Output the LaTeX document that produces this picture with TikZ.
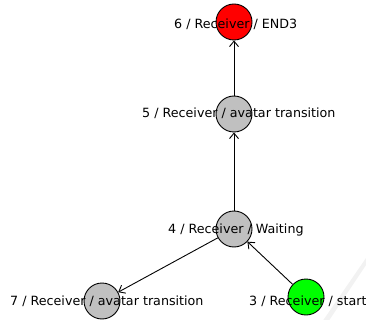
\documentclass[tikz,border=0pt]{standalone}
\usepackage{fontspec}
\setmainfont{DejaVu Sans}
\usetikzlibrary{arrows.meta}
\definecolor{stred}{RGB}{255,0,0}
\definecolor{stgrey}{RGB}{192,192,192}
\definecolor{stgreen}{RGB}{0,255,0}
\begin{document}
\begin{tikzpicture}[x=1pt,y=-1pt,
  state/.style={circle,draw=black,line width=0.9pt,minimum size=36pt,inner sep=0pt},
  lbl/.style={anchor=base west,inner sep=0pt,font=\fontsize{12.7}{14}\selectfont},
  edge/.style={draw=black,line width=0.9pt,-{Straight Barb[length=5.5pt,width=9pt]}}]
\useasboundingbox (0,0) rectangle (366,320);
\fill[gray!10] (368,262) -- (366,258) -- (322,322) -- (328,322) -- cycle;
\node[state,fill=stred]   (n6) at (234,22) {};
\node[state,fill=stgrey]  (n5) at (234,114) {};
\node[state,fill=stgrey]  (n4) at (234,229) {};
\node[state,fill=stgrey]  (n7) at (102,301) {};
\node[state,fill=stgreen] (n3) at (306,297) {};
\draw[edge] (n5) -- (n6);
\draw[edge] (n4) -- (n5);
\draw[edge] (n4) -- (n7);
\draw[edge] (n3) -- (n4);
\node[lbl] (t6) at (174,29) {6 / Receiver / END3};
\node[lbl] (t5) at (142,118) {5 / Receiver / avatar transition};
\node[lbl] (t4) at (168,233) {4 / Receiver / Waiting};
\node[lbl] (t7) at (10,305) {7 / Receiver / avatar transition};
\node[lbl] (t3) at (249,305) {3 / Receiver / start};
\end{tikzpicture}
\end{document}
